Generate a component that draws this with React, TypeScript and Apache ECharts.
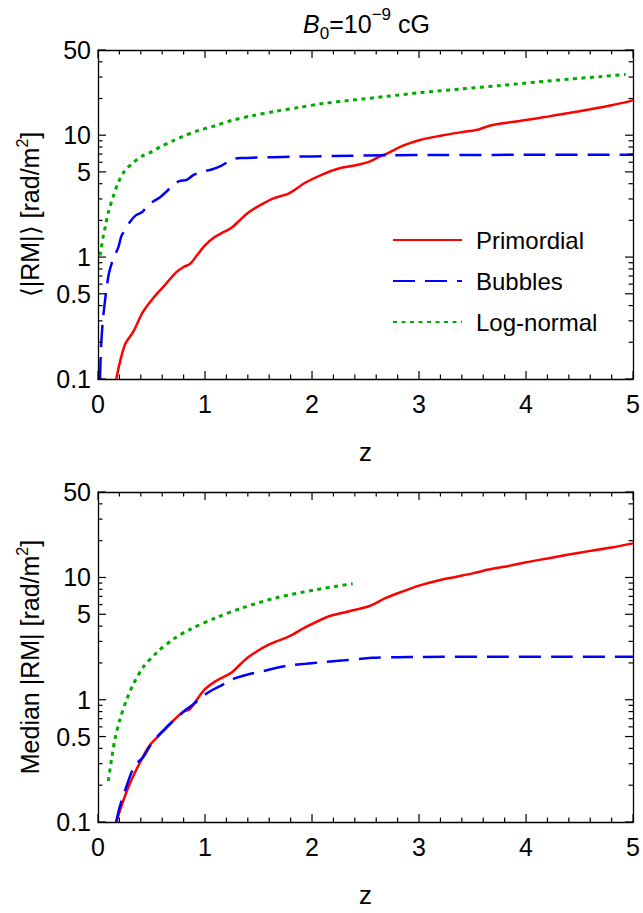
import { useEffect, useRef } from "react";
import * as echarts from "echarts";

// ---------- tick values ----------
const zMin = 0;
const zMax = 5;
const zMajorTicks = [0, 1, 2, 3, 4, 5];
const zMinorTicks = [0.2, 0.4, 0.6, 0.8, 1.2, 1.4, 1.6, 1.8, 2.2, 2.4, 2.6, 2.8, 3.2, 3.4, 3.6, 3.8, 4.2, 4.4, 4.6, 4.8];
const yTickValues = [0.1, 0.5, 1, 5, 10, 50];
const yMinorTickValues = [0.2, 0.3, 0.4, 0.6, 0.7, 0.8, 0.9, 2, 3, 4, 6, 7, 8, 9, 20, 30, 40];

// ---------- legend / series names ----------
const seriesNames = ["Primordial", "Bubbles", "Log-normal"];

// ---------- top panel: mean |RM| ----------
const meanPrimordialZ = [0.17, 0.25, 0.33, 0.42, 0.515, 0.61, 0.73, 0.8, 0.86, 0.93, 1.0, 1.09, 1.17, 1.245, 1.32, 1.4, 1.48, 1.56, 1.64, 1.79, 1.94, 2.1, 2.25, 2.41, 2.53, 2.62, 2.72, 2.85, 3.0, 3.2, 3.4, 3.55, 3.65, 3.8, 4.0, 4.2, 4.4, 4.6, 4.8, 5.0];
const meanPrimordialRM = [0.1, 0.19, 0.245, 0.355, 0.46, 0.57, 0.75, 0.83, 0.88, 1.05, 1.25, 1.46, 1.6, 1.73, 1.99, 2.3, 2.56, 2.8, 3.03, 3.35, 4.09, 4.78, 5.33, 5.67, 6.04, 6.6, 7.2, 8.2, 9.1, 9.9, 10.6, 11.1, 11.9, 12.6, 13.3, 14.2, 15.2, 16.3, 17.6, 19.3];

const meanBubblesZ = [0.019, 0.028, 0.045, 0.06, 0.08, 0.1, 0.13, 0.16, 0.19, 0.22, 0.26, 0.3, 0.35, 0.41, 0.45, 0.5, 0.58, 0.64, 0.7, 0.76, 0.83, 0.89, 0.95, 1.07, 1.15, 1.26, 1.35, 1.48, 1.8, 2.2, 2.72, 3.2, 4.0, 5.0];
const meanBubblesRM = [0.1, 0.18, 0.3, 0.4, 0.55, 0.72, 0.9, 1.05, 1.2, 1.5, 1.7, 1.95, 2.19, 2.33, 2.55, 2.8, 3.1, 3.45, 3.9, 4.2, 4.3, 4.7, 4.95, 5.26, 5.6, 6.35, 6.5, 6.55, 6.65, 6.75, 6.84, 6.88, 6.9, 6.9];

const meanLogNormalZ = [0.019, 0.05, 0.07, 0.096, 0.143, 0.19, 0.25, 0.33, 0.42, 0.5, 0.58, 0.7, 0.8, 0.95, 1.1, 1.26, 1.45, 1.66, 1.88, 2.1, 2.4, 2.69, 3.0, 3.4, 3.75, 4.1, 4.4, 4.7, 4.93];
const meanLogNormalRM = [1.03, 1.5, 1.8, 2.33, 3.15, 4.1, 5.1, 5.97, 6.8, 7.3, 8.0, 9.0, 9.85, 11.0, 12.0, 13.3, 14.5, 15.7, 16.9, 18.2, 19.5, 20.8, 22.3, 24.0, 25.5, 27.3, 28.8, 30.3, 31.5];

// ---------- bottom panel: median |RM| ----------
const medianPrimordialZ = [0.17, 0.27, 0.36, 0.48, 0.58, 0.7, 0.8, 0.86, 0.93, 1.0, 1.1, 1.245, 1.33, 1.415, 1.6, 1.79, 1.94, 2.16, 2.35, 2.53, 2.69, 2.85, 3.0, 3.17, 3.34, 3.5, 3.65, 3.85, 4.0, 4.2, 4.4, 4.6, 4.8, 5.0];
const medianPrimordialRM = [0.1, 0.18, 0.27, 0.42, 0.52, 0.67, 0.8, 0.84, 1.02, 1.22, 1.42, 1.66, 1.95, 2.27, 2.83, 3.31, 3.92, 4.82, 5.3, 5.81, 6.8, 7.7, 8.57, 9.4, 10.1, 10.8, 11.6, 12.5, 13.3, 14.3, 15.4, 16.5, 17.6, 19.0];

const medianBubblesZ = [0.17, 0.2, 0.236, 0.27, 0.313, 0.36, 0.42, 0.48, 0.546, 0.61, 0.67, 0.75, 0.826, 0.9, 0.98, 1.06, 1.14, 1.22, 1.29, 1.4, 1.54, 1.66, 1.79, 1.94, 2.1, 2.3, 2.56, 2.8, 3.03, 3.65, 4.3, 5.0];
const medianBubblesRM = [0.1, 0.13, 0.164, 0.2, 0.254, 0.3, 0.337, 0.41, 0.49, 0.56, 0.63, 0.73, 0.835, 0.93, 1.07, 1.19, 1.29, 1.42, 1.51, 1.61, 1.71, 1.82, 1.91, 1.97, 2.03, 2.1, 2.2, 2.23, 2.24, 2.25, 2.25, 2.25];

const medianLogNormalZ = [0.096, 0.127, 0.158, 0.205, 0.267, 0.33, 0.42, 0.546, 0.7, 0.857, 1.1, 1.35, 1.66, 2.04, 2.38];
const medianLogNormalRM = [0.217, 0.327, 0.475, 0.69, 1.0, 1.34, 1.83, 2.42, 3.11, 3.75, 4.67, 5.64, 6.8, 7.95, 8.9];

// ---------- styling ----------
const FONT = "'Liberation Sans', Arial, Helvetica, sans-serif";
const GRID_LEFT = 98;
const GRID_WIDTH = 537;
const GRID_HEIGHT = 331;
const TOP_DIV_HEIGHT = 470;
const BOTTOM_DIV_HEIGHT = 443;
const MAJOR_LEN = 8;
const MINOR_LEN = 4.5;
const RED = "#ff0000";
const BLUE = "#0000ff";
const GREEN = "#00aa00";

const zip = (xs: number[], ys: number[]) => xs.map((x, i) => [x, ys[i]]);

const mkAxisLine = () => ({ show: true, onZero: false, lineStyle: { color: "#000", width: 1.3 } });

function makeXAxes() {
  const base = () => ({
    type: "value",
    min: zMin,
    max: zMax,
    interval: 1,
    axisLine: mkAxisLine(),
    axisTick: { show: false },
    minorTick: { show: false },
    splitLine: { show: false },
  });
  return [
    {
      ...base(),
      position: "bottom",
      axisLabel: { show: true, fontSize: 25, color: "#000", fontFamily: FONT, margin: 12 },
      name: "z",
      nameLocation: "middle",
      nameGap: 60,
      nameTextStyle: { fontSize: 26, color: "#000", fontFamily: FONT },
    },
    { ...base(), position: "top", axisLabel: { show: false } },
  ];
}

function makeYAxes(nameText: string) {
  const base = () => ({
    type: "log",
    min: 0.1,
    max: 50,
    axisLine: mkAxisLine(),
    axisTick: { show: false },
    splitLine: { show: false },
  });
  return [
    {
      ...base(),
      position: "left",
      axisLabel: {
        show: true,
        customValues: yTickValues,
        fontSize: 25,
        color: "#000",
        fontFamily: FONT,
        margin: 7,
        formatter: (v: number) => String(Number(Number(v).toPrecision(3))),
      },
      name: nameText,
      nameLocation: "middle",
      nameGap: 52,
      nameTextStyle: {
        fontFamily: FONT,
        color: "#000",
        rich: {
          a: { fontSize: 25, fontFamily: FONT, color: "#000", lineHeight: 32 },
          s: { fontSize: 16, fontFamily: FONT, color: "#000", lineHeight: 16, verticalAlign: "top" },
        },
      },
    },
    { ...base(), position: "right", axisLabel: { show: false } },
  ];
}

// tick marks: [z, RM, kind (0 = z tick, 1 = RM tick), length]
function tickData() {
  const rows: number[][] = [];
  zMajorTicks.forEach((z) => rows.push([z, 1, 0, MAJOR_LEN]));
  zMinorTicks.forEach((z) => rows.push([z, 1, 0, MINOR_LEN]));
  yTickValues.forEach((v) => rows.push([1, v, 1, MAJOR_LEN]));
  yMinorTickValues.forEach((v) => rows.push([1, v, 1, MINOR_LEN]));
  return rows;
}

function tickSeries() {
  return {
    type: "custom",
    name: "ticks",
    silent: true,
    clip: false,
    xAxisIndex: 0,
    yAxisIndex: 0,
    encode: { x: 0, y: 1 },
    data: tickData(),
    z: 10,
    renderItem: (params: any, api: any) => {
      const cs = params.coordSys;
      const kind = api.value(2);
      const len = api.value(3);
      const style = { stroke: "#000", lineWidth: 1.2 };
      if (kind === 0) {
        const px = api.coord([api.value(0), 1])[0];
        const bottom = cs.y + cs.height;
        return {
          type: "group",
          children: [
            { type: "line", shape: { x1: px, y1: bottom, x2: px, y2: bottom - len }, style },
            { type: "line", shape: { x1: px, y1: cs.y, x2: px, y2: cs.y + len }, style },
          ],
        };
      }
      const py = api.coord([1, api.value(1)])[1];
      const right = cs.x + cs.width;
      return {
        type: "group",
        children: [
          { type: "line", shape: { x1: cs.x, y1: py, x2: cs.x + len, y2: py }, style },
          { type: "line", shape: { x1: right, y1: py, x2: right - len, y2: py }, style },
        ],
      };
    },
  };
}

const redStyle = { color: RED, width: 2.5, type: "solid" };
const blueStyle = { color: BLUE, width: 2.5, type: [22, 10] };
const greenStyle = { color: GREEN, width: 3, type: [4, 4.5] };

function lineSeries(name: string, data: number[][], lineStyle: any) {
  return {
    type: "line",
    name,
    data,
    symbol: "none",
    showSymbol: false,
    smooth: 0.3,
    lineStyle,
    itemStyle: { color: lineStyle.color },
  };
}

function panelOption(isTop: boolean): any {
  const hiddenDot = { opacity: 0, color: "rgba(0,0,0,0)", borderWidth: 0 };
  const opt: any = {
    animation: false,
    grid: { left: GRID_LEFT, top: isTop ? 50 : 22, width: GRID_WIDTH, height: GRID_HEIGHT },
    xAxis: makeXAxes(),
    yAxis: makeYAxes(isTop ? "{a|⟨|RM|⟩ [rad/m}{s|2}{a|]}" : "{a|Median |RM| [rad/m}{s|2}{a|]}"),
    series: [
      ...(isTop
        ? [
            lineSeries(seriesNames[0], zip(meanPrimordialZ, meanPrimordialRM), redStyle),
            lineSeries(seriesNames[1], zip(meanBubblesZ, meanBubblesRM), blueStyle),
            lineSeries(seriesNames[2], zip(meanLogNormalZ, meanLogNormalRM), greenStyle),
          ]
        : [
            lineSeries(seriesNames[0], zip(medianPrimordialZ, medianPrimordialRM), redStyle),
            lineSeries(seriesNames[1], zip(medianBubblesZ, medianBubblesRM), blueStyle),
            lineSeries(seriesNames[2], zip(medianLogNormalZ, medianLogNormalRM), greenStyle),
          ]),
      tickSeries(),
    ],
  };
  if (isTop) {
    opt.legend = {
      show: true,
      orient: "vertical",
      left: 392,
      top: 228,
      padding: 0,
      itemWidth: 69,
      itemHeight: 14,
      itemGap: 17,
      selectedMode: false,
      itemStyle: hiddenDot,
      data: [
        { name: seriesNames[0], itemStyle: hiddenDot },
        { name: seriesNames[1], itemStyle: hiddenDot },
        { name: seriesNames[2], itemStyle: hiddenDot },
      ],
      textStyle: { fontSize: 24, color: "#000", fontFamily: FONT, padding: [0, 0, 0, 9] },
    };
    opt.graphic = [
      {
        type: "text",
        x: GRID_LEFT + GRID_WIDTH / 2,
        y: 24,
        style: {
          text: "{i|B}{sub|0}{n|=10}{sup|−9}{n| cG}",
          align: "center",
          verticalAlign: "middle",
          rich: {
            i: { fontSize: 25, fontFamily: FONT, fontStyle: "italic", fill: "#000", lineHeight: 36 },
            n: { fontSize: 25, fontFamily: FONT, fill: "#000", lineHeight: 36 },
            sub: { fontSize: 17, fontFamily: FONT, fill: "#000", lineHeight: 26, verticalAlign: "bottom" },
            sup: { fontSize: 17, fontFamily: FONT, fill: "#000", lineHeight: 17, verticalAlign: "top" },
          },
        },
      },
    ];
  }
  return opt;
}

function Panel({ isTop }: { isTop: boolean }) {
  const ref = useRef<HTMLDivElement>(null);
  useEffect(() => {
    if (!ref.current) return;
    const chart = echarts.init(ref.current, undefined, { renderer: "svg" });
    chart.setOption(panelOption(isTop));
    return () => chart.dispose();
  }, [isTop]);
  return <div ref={ref} style={{ width: 643, height: isTop ? TOP_DIV_HEIGHT : BOTTOM_DIV_HEIGHT }} />;
}

export default function App() {
  useEffect(() => {
    document.body.style.margin = "0";
  }, []);
  return (
    <div style={{ position: "absolute", left: 0, top: 0, width: 643, height: 913, background: "#fff" }}>
      <Panel isTop={true} />
      <Panel isTop={false} />
    </div>
  );
}
